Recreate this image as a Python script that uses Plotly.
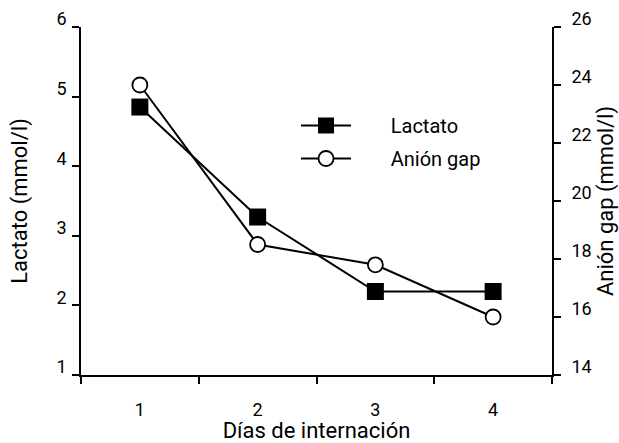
import plotly.graph_objects as go

dias = ["1", "2", "3", "4"]
lactato = [4.85, 3.27, 2.2, 2.2]
anion_gap = [24.0, 18.5, 17.8, 16.0]
left_ticks = [1, 2, 3, 4, 5, 6]
right_ticks = [14, 16, 18, 20, 22, 24, 26]
legend_names = ["Lactato", "Anión gap"]

FONT = "Roboto"
PAD = "\u00a0" * 7
fig = go.Figure()
fig.add_trace(go.Scatter(
    x=dias, y=lactato, name=PAD + legend_names[0], mode="lines+markers",
    line=dict(color="black", width=2),
    marker=dict(symbol="square", size=17, color="black", line=dict(color="black", width=0)),
    yaxis="y", legendgroup="a"))
fig.add_trace(go.Scatter(
    x=dias, y=anion_gap, name=PAD + legend_names[1], mode="lines+markers",
    line=dict(color="black", width=2),
    marker=dict(symbol="circle", size=15, color="white", line=dict(color="black", width=1.8)),
    yaxis="y2", legendgroup="b"))

axis_common = dict(ticks="outside", ticklen=7, tickwidth=1.8, tickcolor="black",
                   showline=True, linecolor="black", linewidth=1.8,
                   showgrid=False, zeroline=False, automargin=False,
                   tickfont=dict(size=18))

fig.update_layout(
    width=619, height=443,
    margin=dict(l=81, r=67, t=27, b=68, autoexpand=False),
    paper_bgcolor="white", plot_bgcolor="white",
    font=dict(family=FONT, size=18, color="black"),
    showlegend=True,
    legend=dict(x=0.4565, y=0.773, xanchor="left", yanchor="top",
                bgcolor="rgba(0,0,0,0)", itemwidth=50,
                tracegroupgap=4, traceorder="grouped",
                font=dict(size=20)),
    xaxis=dict(type="category", range=[-0.5, 3.5], tickson="boundaries",
               ticklabelstandoff=17,
               title=dict(text="Días de internación", standoff=7), **axis_common),
    yaxis=dict(range=[1, 6], tickvals=left_ticks, ticklabelshift=-8,
               ticklabelstandoff=2,
               title=dict(text="Lactato (mmol/l)", standoff=23), **axis_common),
    yaxis2=dict(range=[14, 26], tickvals=right_ticks, overlaying="y", side="right",
                ticklabelshift=-8, ticklabelstandoff=7,
                title=dict(text="Anión gap (mmol/l)", standoff=12), **axis_common),
)
fig.write_html("out.html", config={"displayModeBar": False},
               post_script="document.body.style.margin='0px';")
